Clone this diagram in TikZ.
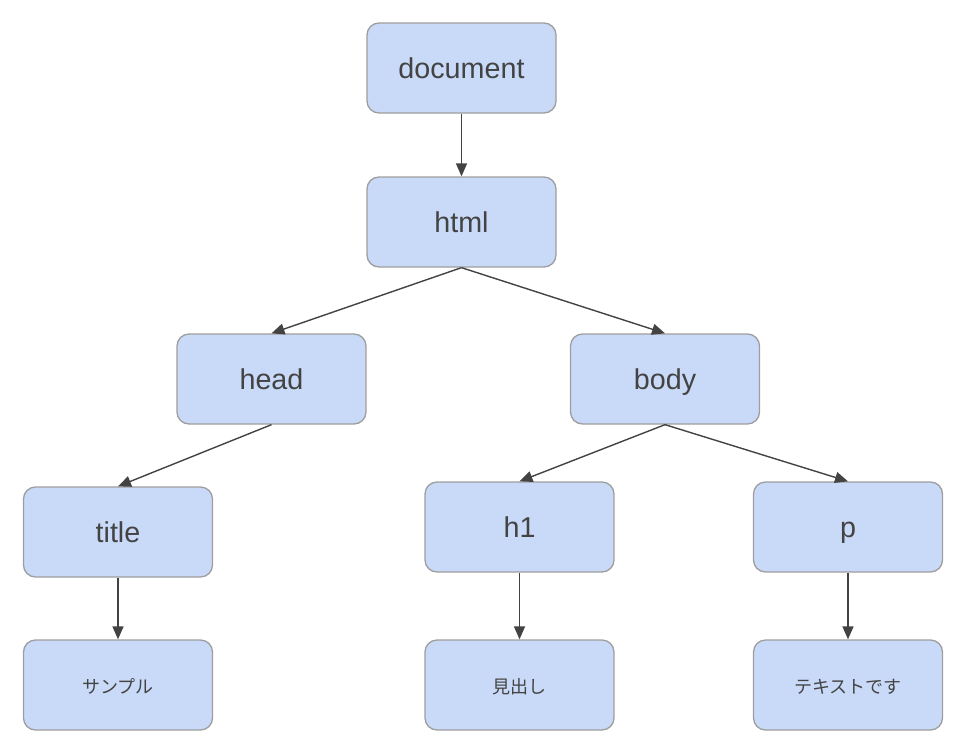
\documentclass[tikz,border=0pt]{standalone}
\usepackage{fontspec}
\setmainfont{Liberation Sans}
\newfontfamily\jpfont{Noto Sans CJK JP}
\usetikzlibrary{arrows.meta}
\definecolor{boxfill}{HTML}{C9DAF8}
\definecolor{boxline}{HTML}{9E9E9E}
\definecolor{ink}{HTML}{434343}
\tikzset{
  treenode/.style={draw=boxline, line width=1.3pt, fill=boxfill, rounded corners=12pt,
    minimum width=189pt, minimum height=90pt, inner sep=0pt, text=ink,
    text height=20.6pt, text depth=0pt,
    font=\fontsize{28.7}{32}\selectfont},
  leafnode/.style={treenode, text height=17pt, text depth=0pt,
    font=\jpfont\fontsize{18}{22}\selectfont},
  edge/.style={draw=ink, line width=1.4pt, -{Triangle[length=13pt,width=11pt]}}
}
\begin{document}
\begin{tikzpicture}[x=1pt,y=-1pt]
\useasboundingbox (0,0) rectangle (956,747);
\node[treenode] (doc)   at (461.5,68)  {document};
\node[treenode] (html)  at (461.5,222) {html};
\node[treenode] (head)  at (271.5,379) {head};
\node[treenode] (body)  at (665,379)   {body};
\node[treenode] (title) at (118,532)   {title};
\node[treenode] (h1)    at (519.5,527) {h1};
\node[treenode] (p)     at (848,527)   {p};
\node[leafnode] (samp)  at (118,685)   {サンプル};
\node[leafnode] (midas) at (519.5,685) {見出し};
\node[leafnode] (text)  at (848,685)   {テキストです};
\draw[edge] (doc.south) -- (html.north);
\draw[edge] (html.south) -- (head.north);
\draw[edge] (html.south) -- (body.north);
\draw[edge] (head.south) -- (title.north);
\draw[edge] (body.south) -- (h1.north);
\draw[edge] (body.south) -- (p.north);
\draw[edge] (title.south) -- (samp.north);
\draw[edge] (h1.south) -- (midas.north);
\draw[edge] (p.south) -- (text.north);
\end{tikzpicture}
\end{document}
